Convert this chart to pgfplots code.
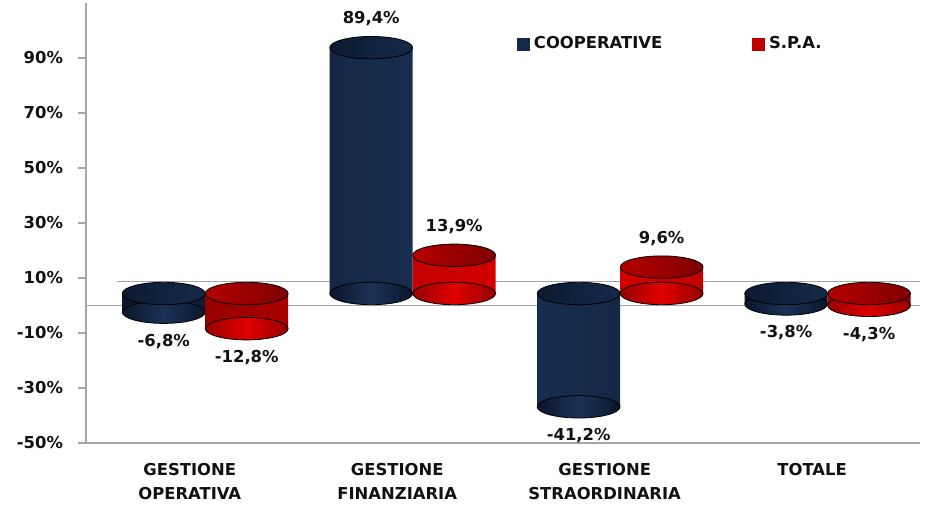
\documentclass[border=0pt]{standalone}
\usepackage{fontspec}
\setmainfont{DejaVu Sans}
\usepackage{pgfplots}
\usepackage{pgfplotstable}
\pgfplotsset{compat=1.18}
\definecolor{navyA}{HTML}{0A162A}
\definecolor{navyB}{HTML}{1B3257}
\definecolor{navyT1}{HTML}{0C1B31}
\definecolor{navyT2}{HTML}{15294A}
\definecolor{redA}{HTML}{980000}
\definecolor{redB}{HTML}{E00000}
\definecolor{redT1}{HTML}{B40000}
\definecolor{redT2}{HTML}{800000}
\definecolor{axgray}{HTML}{A6A6A6}
\definecolor{legnavy}{HTML}{13294A}
\definecolor{legred}{HTML}{C00000}
\definecolor{txt}{HTML}{111111}

\pgfdeclareplotmark{navybot}{\shade[left color=navyA,right color=navyA,middle color=navyB] (0pt,0pt) ellipse [x radius=20.7pt,y radius=5.6pt];}
\pgfdeclareplotmark{navytop}{\shade[left color=navyT1,right color=navyT2] (0pt,0pt) ellipse [x radius=20.7pt,y radius=5.6pt];}
\pgfdeclareplotmark{redbot}{\shade[left color=redA,right color=redA,middle color=redB] (0pt,0pt) ellipse [x radius=20.7pt,y radius=5.6pt];}
\pgfdeclareplotmark{redtop}{\shade[left color=redT1,right color=redT2] (0pt,0pt) ellipse [x radius=20.7pt,y radius=5.6pt];}

\pgfplotstableread{
x v
0 -6.8
1 89.4
2 -41.2
3 -3.8
}\coop
\pgfplotstableread{
x v
0 -12.8
1 13.9
2 9.6
3 -4.3
}\spa

\newcommand{\lfont}{\fontsize{8.2}{12}\selectfont\bfseries}

\begin{document}
\begin{tikzpicture}
\pgfplotsset{threed/.style={xshift=7.75pt,yshift=6pt}}
\begin{axis}[
  scale only axis,
  width=417pt, height=220pt,
  xmin=-0.5, xmax=3.52,
  ymin=-50, ymax=110,
  axis x line*=bottom, axis y line*=left,
  axis line style={draw=axgray, line width=0.75pt},
  ytick={-50,-30,-10,10,30,50,70,90},
  yticklabel={\pgfmathprintnumber[assume math mode=true]{\tick}\%},
  yticklabel style={font=\lfont, text=txt, xshift=-4pt},
  tick align=outside,
  major tick length=4pt,
  ytick style={draw=axgray, line width=0.75pt},
  xtick={0,1,2,3},
  xticklabels={{GESTIONE\\OPERATIVA},{GESTIONE\\FINANZIARIA},{GESTIONE\\STRAORDINARIA},{TOTALE}},
  xticklabel style={font=\lfont, text=txt, align=center, anchor=north, yshift=-2.8pt},
  xtick style={draw=none},
  clip=false,
  legend style={draw=none, fill=none, at={(0.517,0.907)}, anchor=west,
    inner sep=0pt, outer sep=0pt, font=\lfont, text=txt,
    /tikz/every even column/.append style={column sep=43pt}},
  legend columns=2,
  legend cell align=left,
]
\coordinate (SW) at (rel axis cs:0,0);
% back wall line and front zero line
\addplot[draw=axgray, line width=0.75pt, forget plot] coordinates {(-0.35,8.7) (3.52,8.7)};
\addplot[draw=axgray, line width=0.75pt, forget plot] coordinates {(-0.5,0) (3.52,0)};

% COOPERATIVE cylinders
\addplot[only marks, mark=navybot, threed, forget plot] table[x expr=\thisrow{x}-0.2, y expr={min(\thisrow{v},0)}]{\coop};
\addplot[ybar, bar width=0.4, bar shift=0pt, draw=none, left color=navyA, right color=navyA, middle color=navyB, threed, forget plot] table[x expr=\thisrow{x}-0.2, y=v]{\coop};
\addplot[only marks, mark=navytop, threed, forget plot] table[x expr=\thisrow{x}-0.2, y expr={max(\thisrow{v},0)}]{\coop};

% S.P.A. cylinders
\addplot[only marks, mark=redbot, threed, forget plot] table[x expr=\thisrow{x}+0.2, y expr={min(\thisrow{v},0)}]{\spa};
\addplot[ybar, bar width=0.4, bar shift=0pt, draw=none, left color=redA, right color=redA, middle color=redB, threed, forget plot] table[x expr=\thisrow{x}+0.2, y=v]{\spa};
\addplot[only marks, mark=redtop, threed, forget plot] table[x expr=\thisrow{x}+0.2, y expr={max(\thisrow{v},0)}]{\spa};

% value labels
\addplot[draw=none, mark=none, threed, forget plot, point meta={\thisrow{v}},
  nodes near coords={\pgfmathprintnumber[fixed,fixed zerofill,precision=1,use comma,assume math mode=true]{\pgfplotspointmeta}\%},
  every node near coord/.style={anchor=center, font=\lfont, text=txt}]
  table[x expr=\thisrow{x}-0.2, y expr={\thisrow{v}+(\thisrow{v}>0 ? 10.5 : -10.5)}]{\coop};
\addplot[draw=none, mark=none, threed, forget plot, point meta={\thisrow{v}},
  nodes near coords={\pgfmathprintnumber[fixed,fixed zerofill,precision=1,use comma,assume math mode=true]{\pgfplotspointmeta}\%},
  every node near coord/.style={anchor=center, font=\lfont, text=txt}]
  table[x expr=\thisrow{x}+0.2, y expr={\thisrow{v}+(\thisrow{v}>0 ? 10.5 : -10.5)}]{\spa};

\addlegendimage{legend image code/.code={\fill[legnavy] (0pt,-3pt) rectangle (6pt,3pt);}}
\addlegendentry{COOPERATIVE}
\addlegendimage{legend image code/.code={\fill[legred] (0pt,-3pt) rectangle (6pt,3pt);}}
\addlegendentry{S.P.A.}
\end{axis}
\pgfresetboundingbox
\path (SW) ++(-43pt,-31pt) rectangle ++(465.5pt,252.5pt);
\end{tikzpicture}
\end{document}
